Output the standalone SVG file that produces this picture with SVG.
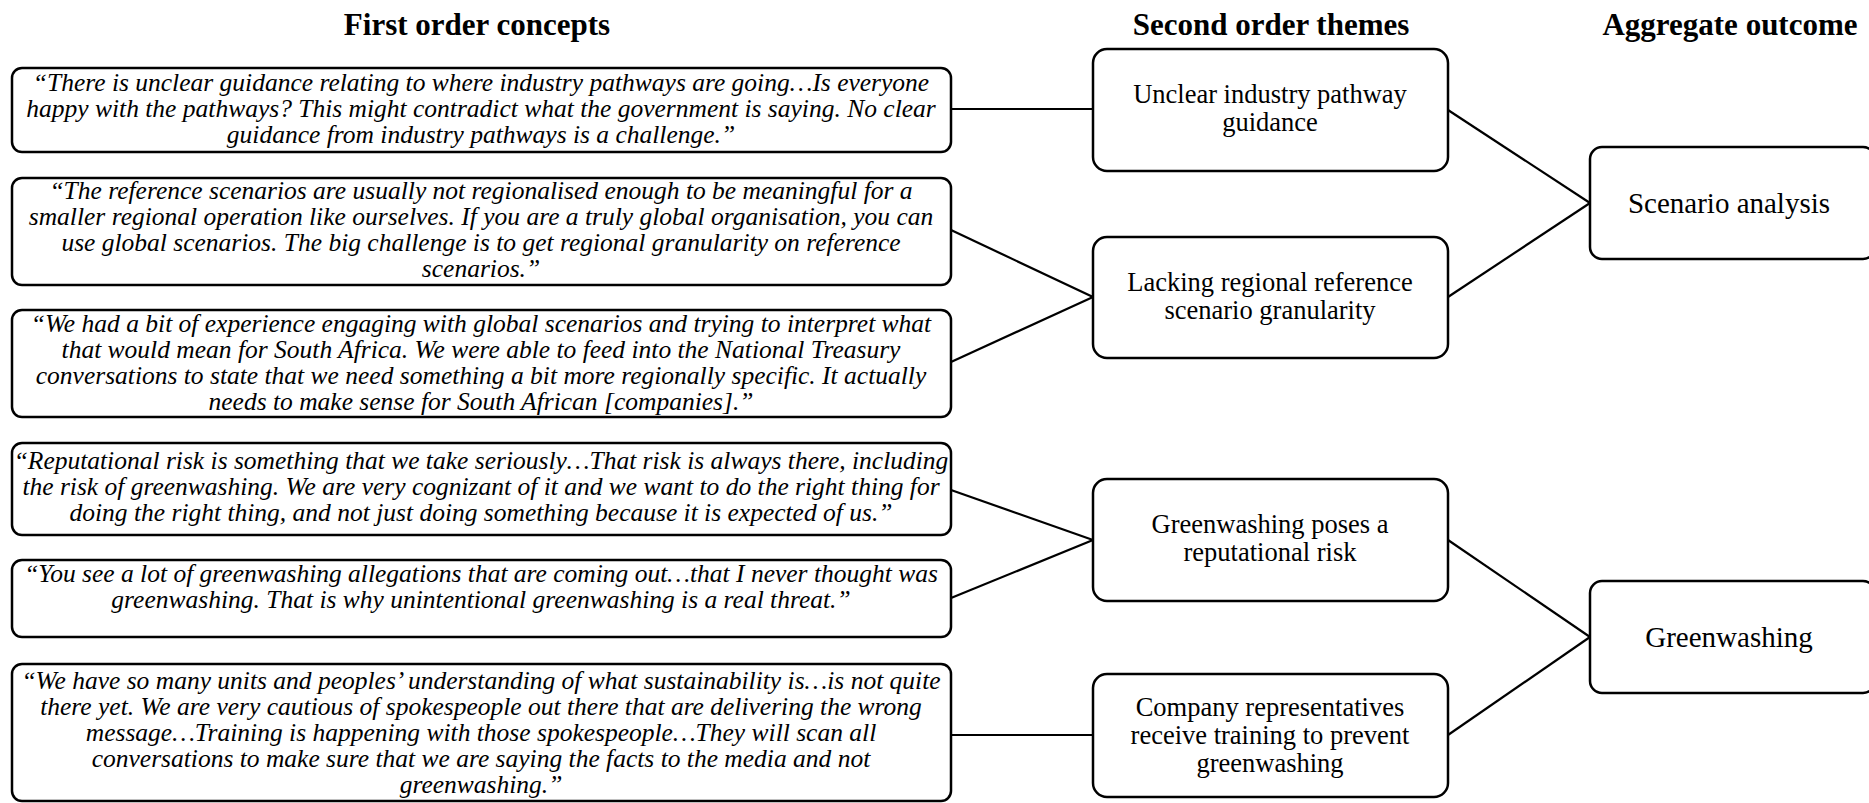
<svg xmlns="http://www.w3.org/2000/svg" width="1869" height="803" viewBox="0 0 1869 803">
<style>
.box{fill:#fff;stroke:#000;stroke-width:2.5}
.hdr{font-family:"Liberation Serif","Times New Roman",serif;font-weight:bold;font-size:31px;text-anchor:middle;fill:#000}
.q{font-family:"Liberation Serif","Times New Roman",serif;font-style:italic;font-size:25.5px;text-anchor:middle;fill:#000}
.t{font-family:"Liberation Serif","Times New Roman",serif;font-size:26.5px;text-anchor:middle;fill:#000}
.a{font-family:"Liberation Serif","Times New Roman",serif;font-size:29px;text-anchor:middle;fill:#000}
.c{stroke:#000;stroke-width:2.2;fill:none}
</style>
<rect width="1869" height="803" fill="#fff"/>
<g id="headers">
<text class="hdr" x="477" y="35">First order concepts</text>
<text class="hdr" x="1271" y="35">Second order themes</text>
<text class="hdr" x="1730" y="35">Aggregate outcome</text>
</g>
<g id="connectors">
<line class="c" x1="951" y1="109" x2="1093" y2="109"/>
<line class="c" x1="951" y1="230" x2="1093" y2="297"/>
<line class="c" x1="951" y1="362" x2="1093" y2="297"/>
<line class="c" x1="951" y1="490" x2="1093" y2="540"/>
<line class="c" x1="951" y1="598" x2="1093" y2="540"/>
<line class="c" x1="951" y1="735" x2="1093" y2="735"/>
<line class="c" x1="1448" y1="110" x2="1590" y2="203"/>
<line class="c" x1="1448" y1="297" x2="1590" y2="203"/>
<line class="c" x1="1448" y1="540" x2="1590" y2="637"/>
<line class="c" x1="1448" y1="735" x2="1590" y2="637"/>
</g>
<g id="q1">
<rect class="box" x="12" y="68" width="939" height="84" rx="10"/>
<text class="q" x="481" y="91">“There is unclear guidance relating to where industry pathways are going…Is everyone</text>
<text class="q" x="481" y="117">happy with the pathways? This might contradict what the government is saying. No clear</text>
<text class="q" x="481" y="143">guidance from industry pathways is a challenge.”</text>
</g>
<g id="q2">
<rect class="box" x="12" y="178" width="939" height="107" rx="10"/>
<text class="q" x="481" y="199">“The reference scenarios are usually not regionalised enough to be meaningful for a</text>
<text class="q" x="481" y="225">smaller regional operation like ourselves. If you are a truly global organisation, you can</text>
<text class="q" x="481" y="251">use global scenarios. The big challenge is to get regional granularity on reference</text>
<text class="q" x="481" y="277">scenarios.”</text>
</g>
<g id="q3">
<rect class="box" x="12" y="310" width="939" height="107" rx="10"/>
<text class="q" x="481" y="332">“We had a bit of experience engaging with global scenarios and trying to interpret what</text>
<text class="q" x="481" y="358">that would mean for South Africa. We were able to feed into the National Treasury</text>
<text class="q" x="481" y="384">conversations to state that we need something a bit more regionally specific. It actually</text>
<text class="q" x="481" y="410">needs to make sense for South African [companies].”</text>
</g>
<g id="q4">
<rect class="box" x="12" y="443" width="939" height="92" rx="10"/>
<text class="q" x="481" y="469">“Reputational risk is something that we take seriously…That risk is always there, including</text>
<text class="q" x="481" y="495">the risk of greenwashing. We are very cognizant of it and we want to do the right thing for</text>
<text class="q" x="481" y="521">doing the right thing, and not just doing something because it is expected of us.”</text>
</g>
<g id="q5">
<rect class="box" x="12" y="560" width="939" height="77" rx="10"/>
<text class="q" x="481" y="582">“You see a lot of greenwashing allegations that are coming out…that I never thought was</text>
<text class="q" x="481" y="608">greenwashing. That is why unintentional greenwashing is a real threat.”</text>
</g>
<g id="q6">
<rect class="box" x="12" y="664" width="939" height="137" rx="10"/>
<text class="q" x="481" y="689">“We have so many units and peoples’ understanding of what sustainability is…is not quite</text>
<text class="q" x="481" y="715">there yet. We are very cautious of spokespeople out there that are delivering the wrong</text>
<text class="q" x="481" y="741">message…Training is happening with those spokespeople…They will scan all</text>
<text class="q" x="481" y="767">conversations to make sure that we are saying the facts to the media and not</text>
<text class="q" x="481" y="793">greenwashing.”</text>
</g>
<g id="t1">
<rect class="box" x="1093" y="49" width="355" height="122" rx="14"/>
<text class="t" x="1270" y="103">Unclear industry pathway</text>
<text class="t" x="1270" y="131">guidance</text>
</g>
<g id="t2">
<rect class="box" x="1093" y="237" width="355" height="121" rx="14"/>
<text class="t" x="1270" y="291">Lacking regional reference</text>
<text class="t" x="1270" y="319">scenario granularity</text>
</g>
<g id="t3">
<rect class="box" x="1093" y="479" width="355" height="122" rx="14"/>
<text class="t" x="1270" y="533">Greenwashing poses a</text>
<text class="t" x="1270" y="561">reputational risk</text>
</g>
<g id="t4">
<rect class="box" x="1093" y="674" width="355" height="123" rx="14"/>
<text class="t" x="1270" y="716">Company representatives</text>
<text class="t" x="1270" y="744">receive training to prevent</text>
<text class="t" x="1270" y="772">greenwashing</text>
</g>
<g id="o1">
<rect class="box" x="1590" y="147" width="285" height="112" rx="12"/>
<text class="a" x="1729" y="213">Scenario analysis</text>
</g>
<g id="o2">
<rect class="box" x="1590" y="581" width="285" height="112" rx="12"/>
<text class="a" x="1729" y="647">Greenwashing</text>
</g>
</svg>
